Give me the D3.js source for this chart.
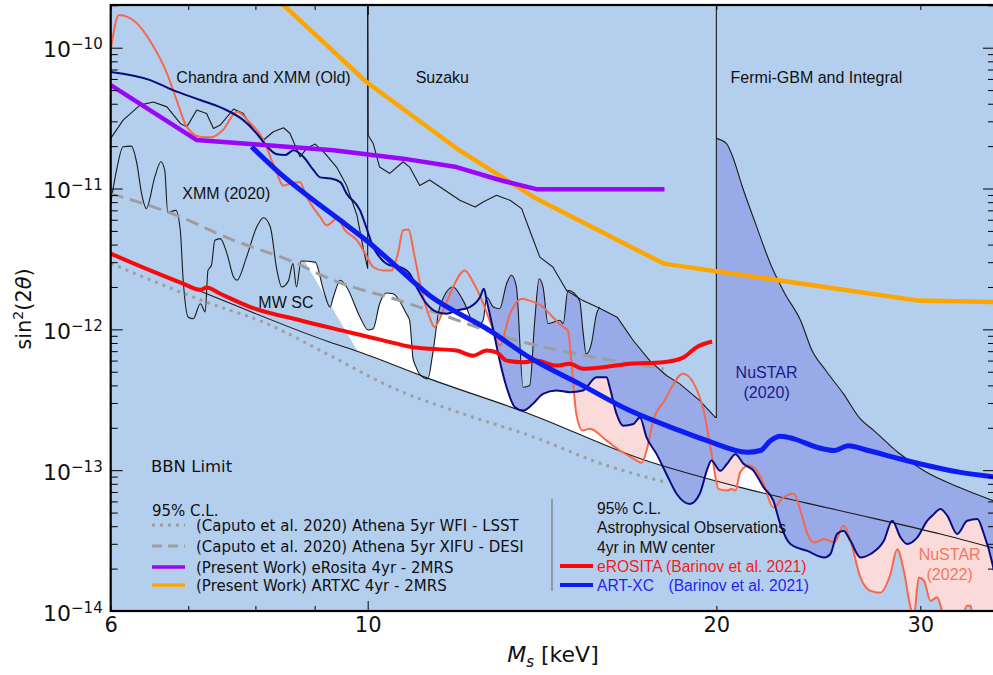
<!DOCTYPE html>
<html>
<head>
<meta charset="utf-8">
<title>Sterile neutrino mixing limits</title>
<script src="https://cdn.jsdelivr.net/npm/d3@7/dist/d3.min.js"></script>
<style>
    body { margin: 0; background: #fff; }
    #chart-area { width: 993px; height: 675px; }
    svg text { font-family: "DejaVu Sans", sans-serif; fill: #111; }
    svg .note { font-family: "Liberation Sans", Arial, sans-serif; font-size: 16px; }
</style>
</head>
<body>
<div id="chart-area"></div>
<script>

// ---- axis ticks ----
const massTickLabels = [6, 10, 20, 30];
const massMajorTicks = [10];
const massMinorTicks = [6, 7, 8, 9, 20, 30];
const mixingDecades = [1e-10, 1e-11, 1e-12, 1e-13, 1e-14];

// ---- curves, [M_s keV, sin^2(2theta)] ----
const chandraOld = [[6.0,2.27e-11],[6.15,3.06e-11],[6.36,3.91e-11],[6.53,4.12e-11],[6.71,3.80e-11],[6.89,2.90e-11],[6.98,2.74e-11],[7.12,3.61e-11],[7.26,3.41e-11],[7.36,2.67e-11],[7.46,2.82e-11],[7.66,3.67e-11],[7.81,3.41e-11],[7.97,2.60e-11],[8.13,2.21e-11],[8.29,2.53e-11],[8.46,2.70e-11],[8.57,2.46e-11],[8.74,1.68e-11],[8.86,1.93e-11],[9.01,2.07e-11],[9.19,1.77e-11],[9.40,1.42e-11],[9.59,1.05e-11],[9.79,6.45e-12],[9.92,3.64e-12],[10.0,2.71e-12],[10.0,3e-10]];

const xmm2020 = [[6.0,7.81e-12],[6.07,1.35e-11],[6.15,1.98e-11],[6.25,2.0e-11],[6.32,1.51e-11],[6.38,9.2e-12],[6.44,7.2e-12],[6.55,1.21e-11],[6.63,1.55e-11],[6.68,1.35e-11],[6.72,6.8e-12],[6.83,7.0e-12],[6.89,5.05e-12],[6.93,2.23e-12],[7.0,1.22e-12],[7.07,1.19e-12],[7.17,1.52e-12],[7.24,1.33e-12],[7.28,2.62e-12],[7.33,2.85e-12],[7.38,4.29e-12],[7.46,4.41e-12],[7.56,3.45e-12],[7.66,2.35e-12],[7.71,2.23e-12],[7.86,3.26e-12],[8.02,5.33e-12],[8.13,6.2e-12],[8.24,5.33e-12],[8.35,2.62e-12],[8.43,2.0e-12],[8.54,2.2e-12],[8.62,2.93e-12],[8.68,2.0e-12],[8.76,3.06e-12],[9.01,3.0e-12],[9.16,1.89e-12],[9.28,1.44e-12],[9.34,1.69e-12],[9.47,2.23e-12],[9.59,2.0e-12],[9.85,1.22e-12],[10.01,9.9e-13],[10.11,1.01e-12],[10.24,1.52e-12],[10.38,1.81e-12],[10.52,1.79e-12],[10.80,1.29e-12],[10.87,1.16e-12],[10.91,8.35e-13],[10.94,6.3e-13],[11.0,5.5e-13],[11.09,4.78e-13],[11.27,4.45e-13],[11.38,6.7e-13],[11.54,1.44e-12],[11.85,2.0e-12],[12.09,1.60e-12],[12.42,1.04e-12],[12.58,1.16e-12],[12.67,1.69e-12],[12.84,1.44e-12],[13.0,1.40e-12],[13.18,2.11e-12],[13.31,2.42e-12],[13.44,2.0e-12],[13.62,3.88e-13],[13.80,3.99e-13],[13.94,1.16e-12],[14.06,2.29e-12],[14.17,2.0e-12],[14.31,1.10e-12],[14.65,1.16e-12],[14.75,1.10e-12],[14.89,1.89e-12],[15.24,1.60e-12],[15.34,9.8e-13],[15.44,6.7e-13],[15.60,7.9e-13],[15.76,1.29e-12],[15.86,1.44e-12]];

const suzaku = [[10.0,3e-10],[10.01,2.39e-11],[10.11,2.09e-11],[10.24,1.42e-11],[10.45,1.28e-11],[10.73,1.55e-11],[10.87,1.42e-11],[11.09,1.05e-11],[11.31,1.15e-11],[11.54,1.03e-11],[12.01,8.26e-12],[12.38,7.39e-12],[12.58,8.03e-12],[12.92,8.96e-12],[13.27,8.26e-12],[13.58,7.2e-12],[13.80,5.05e-12],[14.08,3.26e-12],[14.45,2.77e-12],[14.85,1.89e-12],[15.34,1.60e-12],[15.86,1.41e-12],[16.42,1.22e-12],[16.96,8.3e-13],[17.52,6.0e-13],[18.11,4.7e-13],[18.60,4.1e-13],[19.35,3.12e-13],[19.96,2.37e-13],[20.0,2.37e-13],[20.0,3e-10]];

const fermiIntegral = [[20.0,2.27e-11],[20.40,2.09e-11],[20.66,1.68e-11],[21.06,1.03e-11],[21.62,5.63e-12],[22.33,2.77e-12],[22.92,1.79e-12],[23.64,1.16e-12],[24.19,7.07e-13],[24.86,5.10e-13],[25.75,3.48e-13],[26.63,2.31e-13],[27.36,1.91e-13],[28.69,1.34e-13],[30.22,9.9e-14],[32.40,7.55e-14],[34.8,6.0e-14]];

const bbnLimit = [[6.0,3.41e-12],[7.26,1.79e-12],[9.28,8.1e-13],[9.85,6.87e-13],[11.31,4.45e-13],[13.80,2.51e-13],[17.18,1.21e-13],[20.97,7.55e-14],[25.59,5.15e-14],[31.23,3.52e-14],[34.8,2.78e-14]];

const mwSatellite = [[7.30,4.25e-11],[11.68,6.1e-14]];

const nustar2020 = [[6.0,6.73e-11],[6.49,5.89e-11],[6.79,5.0e-11],[7.17,4.25e-11],[7.55,3.61e-11],[7.81,3.06e-11],[8.02,2.46e-11],[8.19,1.98e-11],[8.35,1.75e-11],[8.49,1.73e-11],[8.63,1.87e-11],[8.80,1.68e-11],[8.98,1.35e-11],[9.10,1.20e-11],[9.28,1.18e-11],[9.47,1.11e-11],[9.59,9.2e-12],[9.85,7.0e-12],[9.97,5.33e-12],[10.11,3.84e-12],[10.24,3.26e-12],[10.45,2.85e-12],[10.66,2.77e-12],[10.87,2.49e-12],[11.02,2.0e-12],[11.24,1.52e-12],[11.47,1.33e-12],[11.70,1.29e-12],[11.93,1.36e-12],[12.25,1.44e-12],[12.50,1.69e-12],[12.60,1.94e-12],[12.67,1.60e-12],[12.84,9.8e-13],[13.0,6.0e-13],[13.18,3.88e-13],[13.40,2.80e-13],[13.62,2.65e-13],[13.89,2.96e-13],[14.17,3.48e-13],[14.55,3.68e-13],[14.94,3.58e-13],[15.34,3.68e-13],[15.76,4.57e-13],[16.08,4.57e-13],[16.18,3.88e-13],[16.40,2.51e-13],[16.62,2.07e-13],[16.96,2.13e-13],[17.18,2.37e-13],[17.41,1.71e-13],[17.76,1.30e-13],[18.11,9.4e-14],[18.48,6.8e-14],[18.97,5.75e-14],[19.35,6.8e-14],[19.67,1.05e-13],[19.80,1.17e-13],[20.16,9.9e-14],[20.43,1.11e-13],[20.77,1.30e-13],[21.11,1.11e-13],[21.54,9.9e-14],[21.97,7.55e-14],[22.40,6.06e-14],[22.71,4.14e-14],[23.17,2.99e-14],[23.97,2.67e-14],[24.79,2.40e-14],[25.09,2.54e-14],[25.42,3.52e-14],[25.75,3.71e-14],[26.11,3.15e-14],[26.63,2.40e-14],[27.17,2.54e-14],[27.90,3.15e-14],[28.37,4.37e-14],[28.84,3.33e-14],[29.22,2.99e-14],[29.82,3.33e-14],[30.41,4.37e-14],[30.72,4.75e-14],[31.23,5.30e-14],[31.65,4.75e-14],[32.28,3.52e-14],[32.93,4.37e-14],[33.60,4.50e-14],[34.04,3.52e-14],[34.63,2.15e-14],[34.8,1.77e-14]];

const nustar2022 = [[6.0,9.64e-11],[6.10,1.71e-10],[6.31,1.51e-10],[6.51,1.07e-10],[6.71,6.57e-11],[6.84,4.25e-11],[6.98,2.74e-11],[7.17,2.33e-11],[7.33,2.31e-11],[7.50,2.60e-11],[7.71,3.51e-11],[7.92,2.91e-11],[8.13,2.21e-11],[8.24,1.68e-11],[8.35,1.28e-11],[8.45,1.05e-11],[8.62,1.10e-11],[8.74,1.11e-11],[8.86,8.71e-12],[9.10,6.28e-12],[9.22,5.48e-12],[9.41,6.12e-12],[9.56,5.05e-12],[9.79,4.29e-12],[9.97,3.36e-12],[10.11,2.77e-12],[10.31,2.62e-12],[10.48,2.62e-12],[10.62,3.46e-12],[10.73,5.05e-12],[10.84,5.11e-12],[10.98,3.26e-12],[11.13,1.89e-12],[11.31,1.22e-12],[11.42,1.04e-12],[11.62,1.36e-12],[11.85,2.0e-12],[12.13,2.62e-12],[12.33,2.17e-12],[12.58,1.53e-12],[12.84,9.8e-13],[13.0,7.68e-13],[13.27,1.29e-12],[13.58,1.65e-12],[13.80,1.60e-12],[14.17,1.44e-12],[14.45,1.22e-12],[14.75,1.04e-12],[14.89,9.8e-13],[14.99,6.0e-13],[15.14,2.51e-13],[15.33,1.91e-13],[15.55,1.97e-13],[16.08,1.62e-13],[16.51,1.38e-13],[16.96,1.21e-13],[17.24,1.13e-13],[17.41,1.38e-13],[17.64,2.25e-13],[18.04,3.12e-13],[18.72,4.83e-13],[19.47,2.80e-13],[19.74,1.54e-13],[19.86,1.17e-13],[20.08,7.36e-14],[20.43,7.16e-14],[20.63,7.36e-14],[20.77,7.16e-14],[20.97,9.65e-14],[21.33,1.08e-13],[21.69,9.9e-14],[21.97,7.98e-14],[22.40,5.44e-14],[22.85,6.40e-14],[23.33,6.8e-14],[23.64,5.15e-14],[23.97,3.52e-14],[24.30,3.07e-14],[24.79,3.24e-14],[25.29,3.07e-14],[25.75,4.03e-14],[26.11,3.15e-14],[26.63,1.73e-14],[27.17,1.39e-14],[27.71,1.35e-14],[28.27,1.83e-14],[28.65,2.75e-14],[29.03,1.93e-14],[29.42,1.06e-14],[29.61,9.2e-15],[29.91,1.73e-14],[30.22,1.64e-14],[30.61,1.18e-14],[31.02,1.25e-14],[31.44,9.2e-15],[32.50,7.8e-15],[32.90,1.09e-14],[33.15,1.09e-14],[33.35,8.5e-15],[34.8,7.8e-15]];

const erositaBarinov = [[6.0,3.45e-12],[6.49,2.62e-12],[6.93,2.11e-12],[7.17,1.91e-12],[7.26,1.98e-12],[7.46,1.79e-12],[7.92,1.44e-12],[8.74,1.16e-12],[9.66,9.5e-13],[10.31,8.35e-13],[10.94,7.47e-13],[11.31,7.28e-13],[11.93,7.07e-13],[12.33,6.5e-13],[12.67,7.07e-13],[12.92,6.87e-13],[13.18,6.0e-13],[13.62,5.84e-13],[13.98,6.0e-13],[14.55,5.53e-13],[14.94,5.69e-13],[15.34,5.25e-13],[15.96,5.38e-13],[16.84,5.69e-13],[17.99,5.84e-13],[18.72,6.3e-13],[19.23,7.47e-13],[19.83,8.2e-13]];

const artxcBarinov = [[7.94,1.98e-11],[8.40,1.28e-11],[8.98,8.26e-12],[9.47,5.95e-12],[9.97,4.29e-12],[10.52,2.93e-12],[11.31,1.74e-12],[12.75,9.8e-13],[13.80,6.3e-13],[15.24,4.1e-13],[16.84,2.65e-13],[18.60,1.91e-13],[19.64,1.62e-13],[21.26,1.34e-13],[21.83,1.38e-13],[22.27,1.62e-13],[22.71,1.74e-13],[23.33,1.67e-13],[24.45,1.45e-13],[25.29,1.38e-13],[25.98,1.49e-13],[27.04,1.38e-13],[28.84,1.20e-13],[30.41,1.08e-13],[32.50,9.65e-14],[34.8,8.95e-14]];

const erositaPresent = [[6.0,5.43e-11],[7.12,2.21e-11],[7.92,2.07e-11],[9.34,1.87e-11],[10.73,1.63e-11],[11.93,1.42e-11],[13.0,1.15e-11],[13.98,9.9e-12],[18.04,9.9e-12]];

const artxcPresent = [[8.22,2.5e-10],[9.97,5.73e-11],[11.93,1.93e-11],[13.98,8.48e-12],[18.01,2.93e-12],[29.89,1.60e-12],[34.8,1.56e-12]];

const athenaXIFU = [[6.0,9.2e-12],[6.78,6.63e-12],[7.66,4.29e-12],[8.56,3.09e-12],[9.34,2.23e-12],[10.66,1.60e-12],[11.31,1.36e-12],[13.80,7.9e-13],[15.76,6.3e-13],[18.01,5.25e-13]];

const athenaWFI = [[6.0,2.94e-12],[7.26,1.56e-12],[8.18,1.10e-12],[9.31,6.42e-13],[10.59,3.74e-13],[12.09,2.51e-13],[13.80,1.76e-13],[16.08,1.08e-13],[18.01,8.28e-14]];

// ---- legend texts ----
const sensitivityLabels = ["(Caputo et al. 2020) Athena 5yr WFI - LSST", "(Caputo et al. 2020) Athena 5yr XIFU - DESI",
    "(Present Work) eRosita 4yr - 2MRS", "(Present Work) ARTXC 4yr - 2MRS"];
const astroHeader = ["95% C.L.", "Astrophysical Observations", "4yr in MW center"];


class LimitsVis {

    constructor(parentElement) {
        this.parentElement = parentElement;
        this.colors = {excluded: "#b4cfee", nustar20: "#99aae8", nustar22: "#fbdada"};
        this.initVis();
    }

    initVis() {
        let vis = this;

        vis.margin = {top: 5, right: -2, bottom: 64, left: 110.7};
        vis.width = 993 - vis.margin.left - vis.margin.right;
        vis.height = 675 - vis.margin.top - vis.margin.bottom;

        vis.root = d3.select("#" + vis.parentElement).append("svg")
            .attr("width", 993)
            .attr("height", 675);
        vis.svg = vis.root.append("g")
            .attr("transform", `translate(${vis.margin.left}, ${vis.margin.top})`);

        vis.x = d3.scaleLog().domain([6, 34.8]).range([0, vis.width]);
        vis.y = d3.scaleLog().domain([1e-14, 2.01e-10]).range([vis.height, 0]);

        vis.defs = vis.svg.append("defs");
        vis.defs.append("clipPath").attr("id", "plot-clip")
            .append("rect").attr("width", vis.width).attr("height", vis.height);

        vis.plot = vis.svg.append("g").attr("clip-path", "url(#plot-clip)");
        vis.plot.append("rect")
            .attr("width", vis.width)
            .attr("height", vis.height)
            .attr("fill", vis.colors.excluded);

        vis.drawRegions();
        vis.drawLines();
        vis.drawAxes();
        vis.drawLabels();
        vis.drawLegends();
    }

    curveFor(pts) {
        let dup = pts.some((d, i) => i > 0 && d[0] === pts[i - 1][0]);
        return dup ? d3.curveLinear : d3.curveMonotoneX;
    }

    pathOf(pts, curve) {
        let vis = this;
        return d3.line()
            .x(d => vis.x(d[0]))
            .y(d => vis.y(d[1]))
            .curve(curve)(pts);
    }

    drawRegions() {
        let vis = this;
        let top = -60, bottom = vis.height + 60, left = -10, right = vis.width + 10;

        // region still allowed by the older X-ray bounds = below every one of them
        let allowed = vis.plot;
        [chandraOld, xmm2020, suzaku, fermiIntegral].forEach((pts, i) => {
            let a = vis.x(pts[0][0]), b = vis.x(pts[pts.length - 1][0]);
            let body = vis.pathOf(pts, vis.curveFor(pts)).replace(/^M/, "L");
            let d = `M${left},${top}L${a},${top}${body}L${b},${top}L${right},${top}L${right},${bottom}L${left},${bottom}Z`;
            vis.defs.append("clipPath").attr("id", "allowed-" + i).append("path").attr("d", d);
            allowed = allowed.append("g").attr("clip-path", `url(#allowed-${i})`);
        });

        // MW satellite counts: only masses right of this line survive
        let m0 = [vis.x(mwSatellite[0][0]), vis.y(mwSatellite[0][1])];
        let m1 = [vis.x(mwSatellite[1][0]), vis.y(mwSatellite[1][1])];
        vis.defs.append("clipPath").attr("id", "mw-sc")
            .append("path")
            .attr("d", d3.line()([m0, m1, [m1[0], bottom], [right, bottom], [right, top], [m0[0], top]]) + "Z");
        allowed = allowed.append("g").attr("clip-path", "url(#mw-sc)");

        let areaAbove = d3.area()
            .x(d => vis.x(d[0]))
            .y0(top)
            .y1(d => vis.y(d[1]))
            .curve(d3.curveMonotoneX);

        allowed.append("path").attr("d", areaAbove(bbnLimit)).attr("fill", "#fff");

        allowed.append("path")
            .attr("d", areaAbove(nustar2022.filter(d => d[0] >= 14.89)))
            .attr("fill", vis.colors.nustar22);

        allowed.append("path")
            .attr("d", areaAbove(nustar2020))
            .attr("fill", vis.colors.nustar20);
    }

    drawLines() {
        let vis = this;

        vis.lineStyles = [
            {data: chandraOld, stroke: "#1a1a1a", width: 1.1},
            {data: xmm2020, stroke: "#1a1a1a", width: 1.1},
            {data: suzaku, stroke: "#1a1a1a", width: 1.1},
            {data: fermiIntegral, stroke: "#1a1a1a", width: 1.1},
            {data: bbnLimit, stroke: "#1a1a1a", width: 1.1},
            {data: athenaWFI, stroke: "#9e9e9e", width: 3, dash: "3,5", curve: d3.curveMonotoneX},
            {data: athenaXIFU, stroke: "#9e9e9e", width: 3, dash: "13,7", curve: d3.curveMonotoneX},
            {data: nustar2022, stroke: "#f5684c", width: 2},
            {data: nustar2020, stroke: "#0b0b80", width: 2},
            {data: artxcPresent, stroke: "#ffa500", width: 4.5, curve: d3.curveLinear},
            {data: erositaPresent, stroke: "#9a06f8", width: 4.5, curve: d3.curveLinear},
            {data: erositaBarinov, stroke: "#f80a0a", width: 4},
            {data: artxcBarinov, stroke: "#0c1cf2", width: 5}
        ];

        vis.plot.selectAll(".limit-line")
            .data(vis.lineStyles)
            .enter()
            .append("path")
            .attr("class", "limit-line")
            .attr("d", s => vis.pathOf(s.data, s.curve || vis.curveFor(s.data)))
            .attr("fill", "none")
            .attr("stroke", s => s.stroke)
            .attr("stroke-width", s => s.width)
            .attr("stroke-dasharray", s => s.dash || null)
            .attr("stroke-linejoin", "round");
    }

    drawAxes() {
        let vis = this;
        let decadeSet = new Set(mixingDecades.map(d => Math.round(Math.log10(d))));
        let yMinor = vis.y.ticks().filter(v => !decadeSet.has(Math.round(Math.log10(v))) || Math.abs(Math.log10(v) - Math.round(Math.log10(v))) > 0.01);

        let styleAxis = g => {
            g.select(".domain").remove();
            g.attr("font-family", "DejaVu Sans").attr("font-size", 21);
            g.selectAll(".tick line").attr("stroke", "#000").attr("stroke-width", 1);
            g.selectAll(".tick text").attr("fill", "#111");
        };

        // x axis, bottom + top
        vis.svg.append("g")
            .attr("transform", `translate(0, ${vis.height})`)
            .call(d3.axisBottom(vis.x).tickValues(massMajorTicks).tickSize(-10).tickPadding(6).tickFormat(d3.format("d")))
            .call(styleAxis);
        vis.svg.append("g")
            .attr("transform", `translate(0, ${vis.height})`)
            .call(d3.axisBottom(vis.x).tickValues(massMinorTicks).tickSize(-5).tickPadding(6)
                .tickFormat(d => massTickLabels.includes(d) ? d3.format("d")(d) : ""))
            .call(styleAxis);
        vis.svg.append("g")
            .call(d3.axisTop(vis.x).tickValues(massMajorTicks).tickSize(-10).tickFormat(""))
            .call(styleAxis);
        vis.svg.append("g")
            .call(d3.axisTop(vis.x).tickValues(massMinorTicks).tickSize(-5).tickFormat(""))
            .call(styleAxis);

        // y axis, left + right
        let yLeft = vis.svg.append("g")
            .call(d3.axisLeft(vis.y).tickValues(mixingDecades).tickSize(-12).tickPadding(8).tickFormat(""))
            .call(styleAxis);
        yLeft.selectAll(".tick text").each(function (d) {
            let t = d3.select(this).attr("dy", null).attr("y", 9).attr("font-size", 22);
            t.append("tspan").text("10");
            t.append("tspan").attr("font-size", 15).attr("dy", -8)
                .text("\u2212" + Math.round(-Math.log10(d)));
        });
        vis.svg.append("g")
            .call(d3.axisLeft(vis.y).tickValues(yMinor).tickSize(-7).tickFormat(""))
            .call(styleAxis);
        vis.svg.append("g")
            .attr("transform", `translate(${vis.width}, 0)`)
            .call(d3.axisRight(vis.y).tickValues(mixingDecades).tickSize(-12).tickFormat(""))
            .call(styleAxis);
        vis.svg.append("g")
            .attr("transform", `translate(${vis.width}, 0)`)
            .call(d3.axisRight(vis.y).tickValues(yMinor).tickSize(-7).tickFormat(""))
            .call(styleAxis);

        // frame
        vis.svg.append("rect")
            .attr("width", vis.width)
            .attr("height", vis.height)
            .attr("fill", "none")
            .attr("stroke", "#000")
            .attr("stroke-width", 2.2);

        // axis titles
        let yl = vis.root.append("text")
            .attr("transform", "translate(31, 309) rotate(-90)")
            .attr("text-anchor", "middle")
            .attr("font-size", 21);
        yl.append("tspan").text("sin");
        yl.append("tspan").attr("font-size", 14).attr("dy", -8).text("2");
        yl.append("tspan").attr("dy", 8).text("(2");
        yl.append("tspan").attr("font-style", "italic").text("\u03b8");
        yl.append("tspan").text(")");

        let xl = vis.root.append("text")
            .attr("x", 553)
            .attr("y", 662)
            .attr("text-anchor", "middle")
            .attr("font-size", 22)
            .style("white-space", "pre");
        xl.append("tspan").attr("font-style", "italic").text("M");
        xl.append("tspan").attr("font-style", "italic").attr("font-size", 15).attr("dy", 5).text("s");
        xl.append("tspan").attr("dy", -5).text(" [keV]");
    }

    drawLabels() {
        let vis = this;

        let note = (text, at, color, anchor) => vis.svg.append("text")
            .attr("class", "note")
            .attr("x", vis.x(at[0]))
            .attr("y", vis.y(at[1]))
            .attr("text-anchor", anchor || "middle")
            .style("fill", color || "#111")
            .text(text);

        note("Chandra and XMM (Old)", [8.13, 5.6e-11]);
        note("Suzaku", [11.6, 5.6e-11]);
        note("Fermi-GBM and Integral", [24.4, 5.6e-11]);
        note("XMM (2020)", [7.55, 8.4e-12]);
        note("MW SC", [8.5, 1.42e-12]);

        let n20 = note("", [22.1, 4.51e-13], "#1b1b8a");
        n20.append("tspan").attr("x", vis.x(22.1)).text("NuSTAR");
        n20.append("tspan").attr("x", vis.x(22.1)).attr("dy", 20).text("(2020)");

        let n22 = note("", [31.8, 2.31e-14], "#f2775d");
        n22.append("tspan").attr("x", vis.x(31.8)).text("NuSTAR");
        n22.append("tspan").attr("x", vis.x(31.8)).attr("dy", 20).text("(2022)");

        vis.svg.append("text")
            .attr("x", vis.x(6.5))
            .attr("y", vis.y(9.77e-14))
            .attr("font-size", 16.5)
            .text("BBN Limit");
    }

    drawLegends() {
        let vis = this;

        // sensitivity legend (left)
        let left = vis.svg.append("g").attr("transform", "translate(41.3, 0)");
        left.append("text").attr("x", 0).attr("y", 510.5).attr("font-size", 15).text("95% C.L.");
        let rowY = [520, 541, 562, 580];
        let rowStyle = [vis.lineStyles[5], vis.lineStyles[6], vis.lineStyles[10], vis.lineStyles[9]];
        sensitivityLabels.forEach((label, i) => {
            let s = rowStyle[i];
            left.append("line")
                .attr("x1", 0).attr("x2", 33)
                .attr("y1", rowY[i]).attr("y2", rowY[i])
                .attr("stroke", s.stroke)
                .attr("stroke-width", i < 2 ? 3 : 3.5)
                .attr("stroke-dasharray", s.dash ? (i === 0 ? "3,5" : "10,6") : null);
            left.append("text")
                .attr("x", 44).attr("y", rowY[i] + 5.5)
                .attr("font-size", 15)
                .text(label);
        });

        // astrophysical legend (right)
        let right = vis.svg.append("g").attr("transform", "translate(441.3, 0)");
        right.append("line")
            .attr("x1", 0).attr("x2", 0)
            .attr("y1", 494).attr("y2", 586)
            .attr("stroke", "#777").attr("stroke-width", 1.2);
        let hy = [509, 528, 547.5];
        astroHeader.forEach((t, i) => {
            right.append("text").attr("class", "note").attr("x", 45).attr("y", hy[i])
                .style("font-size", "15.6px").text(t);
        });

        right.append("line").attr("x1", 8).attr("x2", 41).attr("y1", 561).attr("y2", 561)
            .attr("stroke", "#f80a0a").attr("stroke-width", 4);
        right.append("text").attr("class", "note").attr("x", 45).attr("y", 566.5)
            .style("font-size", "15.6px").style("fill", "#f41c1c")
            .text("eROSITA (Barinov et al. 2021)");

        right.append("line").attr("x1", 8).attr("x2", 41).attr("y1", 580).attr("y2", 580)
            .attr("stroke", "#0c1cf2").attr("stroke-width", 4);
        let art = right.append("text").attr("class", "note").attr("y", 585.5)
            .style("font-size", "15.6px").style("fill", "#2424ee");
        art.append("tspan").attr("x", 45).text("ART-XC");
        art.append("tspan").attr("x", 116.5).text("(Barinov et al. 2021)");
    }
}

new LimitsVis("chart-area");

</script>
</body>
</html>
